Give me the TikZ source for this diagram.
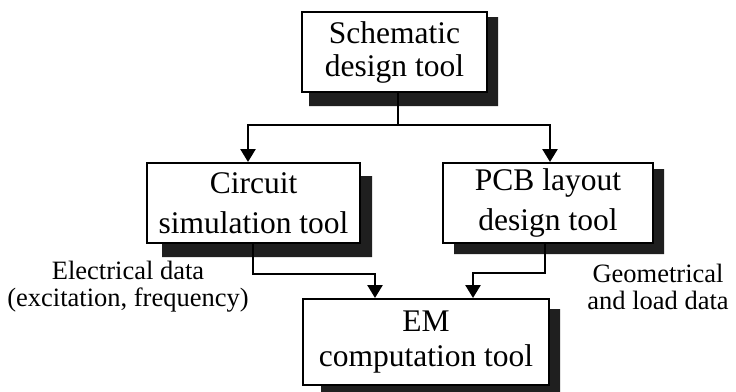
\documentclass[tikz,border=0pt]{standalone}
\usepackage{fontspec}
\setmainfont{Liberation Serif}
\usetikzlibrary{arrows.meta,calc}
% solid drop shade to the right of and below a box:
% #1 node, #2 inset of the lower bar, #3 drop of the side bar, #4 side width, #5 lower depth
\newcommand\dropshade[5]{%
  \fill[shade] ($(#1.north east)+(0,#3)$) -- ($(#1.north east)+(#4,#3)$)
    -- ($(#1.south east)+(#4,#5)$) -- ($(#1.south west)+(#2,#5)$)
    -- ($(#1.south west)+(#2,0)$) -- (#1.south east) -- cycle;}
\begin{document}
\begin{tikzpicture}[x=1pt,y=-1pt,
  toolbox/.style={draw=black,line width=2pt,fill=white,inner sep=0pt,align=center},
  shade/.style={fill=black!88},
  link/.style={line width=2.6pt},
  flow/.style={link,-{Triangle[width=15pt,length=13pt]}},
  note/.style={align=center,font=\fontsize{26.5}{27}\selectfont}]
\useasboundingbox (0,0) rectangle (736,391);
\fill[white] (0,0) rectangle (736,391);

% tool boxes
\node[toolbox,minimum width=185pt,minimum height=80pt,font=\fontsize{31.5}{33}\selectfont]
  (sch) at (394.5,52) {Schematic\\design tool};
\node[toolbox,minimum width=213pt,minimum height=80pt,font=\fontsize{31.5}{40}\selectfont]
  (cir) at (253.5,203) {Circuit\\simulation tool};
\node[toolbox,minimum width=210pt,minimum height=80pt,font=\fontsize{31.5}{40}\selectfont]
  (pcb) at (548,203) {PCB layout\\design tool};
\node[toolbox,minimum width=246pt,minimum height=86pt,font=\fontsize{31.5}{35}\selectfont]
  (em) at (426,342) {EM\\computation tool};

% drop shades
\dropshade{sch}{8}{6}{10}{13}
\dropshade{cir}{16}{14}{11}{13}
\dropshade{pcb}{12}{7}{10}{10}
\dropshade{em}{19}{11}{10}{12}

% schematic output split to both tools
\coordinate (split) at (398,125);
\draw[link] (split |- sch.south) -- (split);
\draw[flow] (split) -| ([xshift=-5.5pt]cir.north);
\draw[flow] (split) -| ([xshift=2pt]pcb.north);

% data passed on to the EM tool
\draw[flow] ([xshift=-0.5pt]cir.south) -- ++(0,30) -| ([xshift=-51pt]em.north);
\draw[flow] ([xshift=-3pt]pcb.south) -- ++(0,29) -| ([xshift=47pt]em.north);

% data labels
\node[note] (elec) at (128,287) {Electrical data\\(excitation, frequency)};
\node[note] (geo) at (658,287) {Geometrical\\and load data};
\end{tikzpicture}
\end{document}
